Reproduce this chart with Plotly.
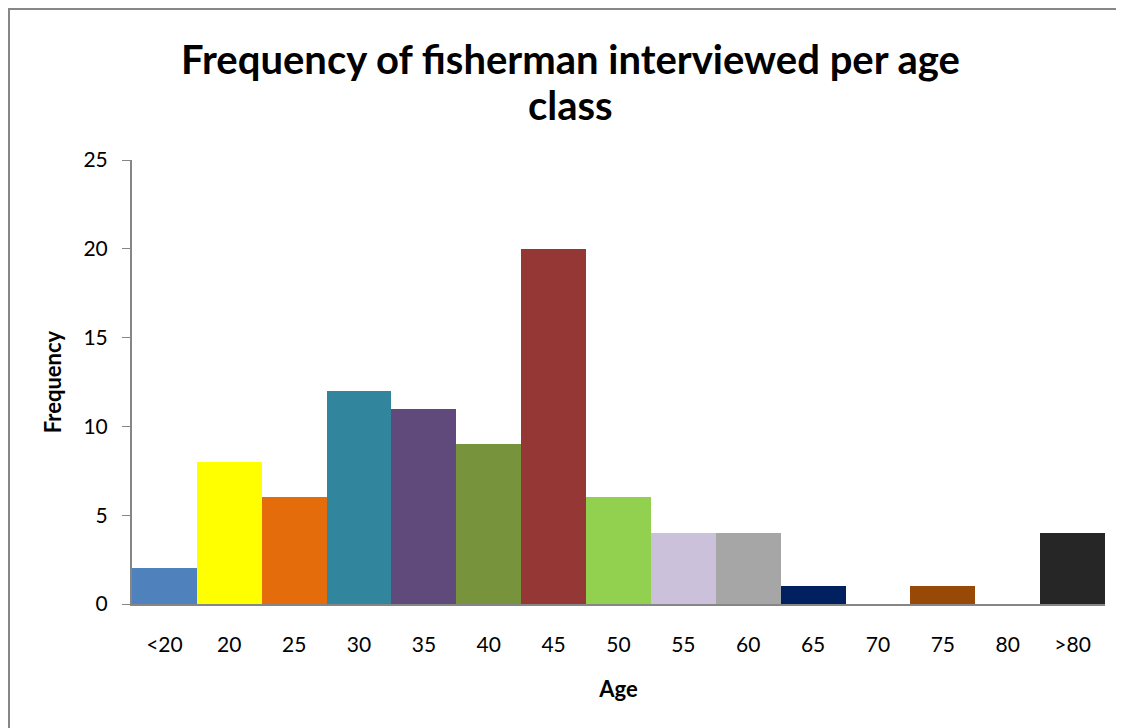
import plotly.graph_objects as go

# faixas etarias e frequencias
age_classes = ['<20', '20', '25', '30', '35', '40', '45', '50', '55', '60', '65', '70', '75', '80', '>80']
frequency = [2, 8, 6, 12, 11, 9, 20, 6, 4, 4, 1, 0, 1, 0, 4]
bar_colors = ['#4F81BD', '#FFFF00', '#E46C0A', '#31859C', '#604A7B', '#77933C', '#953735',
              '#92D050', '#CCC1DA', '#A6A6A6', '#002060', '#FFFFFF', '#984807', '#FFFFFF', '#262626']
y_ticks = [0, 5, 10, 15, 20, 25]
title_lines = ['Frequency of fisherman interviewed per age', 'class']

fonte = 'Lato, "Open Sans", sans-serif'

fig = go.Figure()
fig.add_trace(go.Bar(x=age_classes, y=frequency, marker=dict(color=bar_colors, line=dict(width=0))))

# a pagina tem margem de 8px no body, por isso tudo vai deslocado
fig.update_layout(
    width=1124, height=728,
    paper_bgcolor='white', plot_bgcolor='white',
    margin=dict(l=124, r=27, t=152, b=132),
    bargap=0,
    showlegend=False,
    font=dict(family=fonte, color='black'),
)

# titulo em duas anotacoes (controle do espacamento entre linhas)
for linha, y_px in zip(title_lines, [51, 97]):
    fig.add_annotation(
        text='<b>' + linha + '</b>',
        font=dict(size=40, family=fonte, color='black'),
        xref='paper', yref='paper',
        x=(562 - 124) / 973, y=(596 - y_px) / 444,
        xanchor='center', yanchor='middle',
        showarrow=False,
    )

fig.update_xaxes(
    showline=True, linecolor='#868686', linewidth=2,
    ticks='', ticklabelstandoff=21,
    tickfont=dict(size=21),
    title=dict(text='<b>Age</b>', font=dict(size=22), standoff=26),
    showgrid=False,
)
fig.update_yaxes(
    range=[0, 25], tickvals=y_ticks,
    showline=True, linecolor='#868686', linewidth=2,
    ticks='outside', ticklen=8, tickcolor='#868686', tickwidth=1,
    ticklabelstandoff=10,
    tickfont=dict(size=21),
    title=dict(text='<b>Frequency</b>', font=dict(size=22), standoff=16),
    showgrid=False, zeroline=False,
)

# moldura cinza do grafico
fig.add_shape(type='rect', xref='paper', yref='paper',
              x0=(1 - 124) / 973, x1=1.2, y0=-0.5, y1=(596 - 1) / 444,
              line=dict(color='#878787', width=2), fillcolor='rgba(0,0,0,0)', layer='below')

fig.write_html("out.html")
